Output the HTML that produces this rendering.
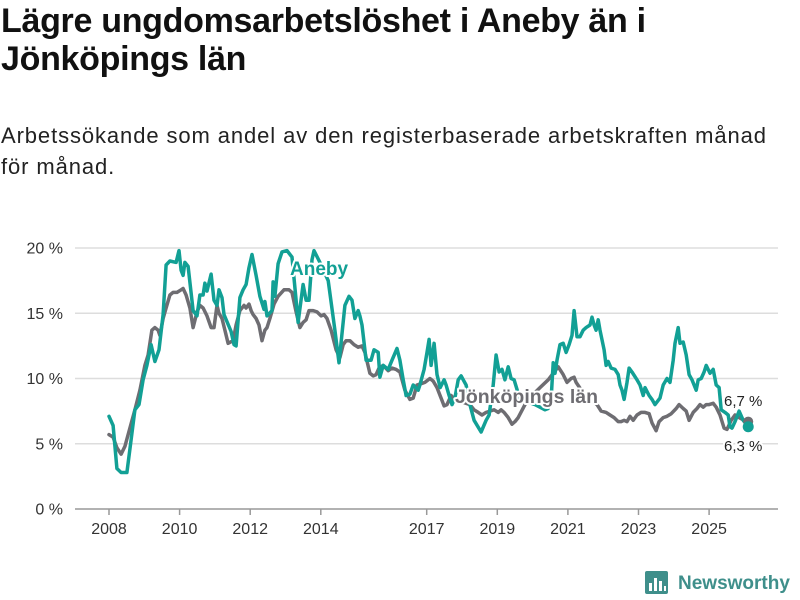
<!DOCTYPE html>
<html><head><meta charset="utf-8">
<style>
body{margin:0;background:#fff;font-family:"Liberation Sans",sans-serif;}
#wrap{position:relative;width:800px;height:600px;overflow:hidden;}
h1{position:absolute;left:1px;top:2px;margin:0;font-size:34px;line-height:38px;font-weight:bold;color:#111;width:795px;letter-spacing:-0.3px;}
p.sub{position:absolute;left:1px;top:120px;margin:0;font-size:22px;line-height:31px;color:#222;width:798px;letter-spacing:0.9px;white-space:nowrap;}
svg{position:absolute;left:0;top:0;}
</style></head><body>
<div id="wrap">
<h1>Lägre ungdomsarbetslöshet i Aneby än i<br>Jönköpings län</h1>
<p class="sub">Arbetssökande som andel av den registerbaserade arbetskraften månad<br>för månad.</p>
<svg id="chart" width="800" height="600"></svg>
</div>
<script>
// months since Jan 2008
const anebyMonths=[0,1.4,2.7,4.1,6.1,7.5,8.8,10.2,11.6,12.9,14.3,15.6,17,18.4,19.4,20.7,22.8,23.8,24.5,25.2,25.8,26.9,28.6,29.9,30.9,32,32.6,33.3,34.7,35.7,36.7,37.4,38.4,39.1,41.5,42.5,43.2,44.5,45.6,46.6,47.6,48.6,50,51.3,52.7,53,53.7,55.4,55.8,56.4,57.5,58.8,60.5,62.2,63.6,64.3,66,67,68,69,69.7,71.7,74.5,76.8,78.2,80.2,81.6,82.6,83.6,84.7,85.3,86,87.4,89.1,90.1,91.5,92.1,93.2,94.9,96.2,97.9,98.9,100,101,102.3,103.4,105.1,105.7,107.1,108.1,108.8,109.5,110.5,111.5,112.6,113.9,114.6,115.6,116.6,117.6,118.7,119.7,121.4,122.7,124.1,126.5,128.2,129.2,130.6,131.6,132.6,133.6,134.6,135.7,136.7,137.7,139.7,144.8,148.2,149.3,150.3,151,151.6,152.3,153.3,154.4,155.4,156.4,157.4,158.1,159.1,160.1,161.2,162.2,163.5,164.2,164.9,165.6,166.3,166.9,168.3,169,169.7,170.7,172,173.1,173.7,174.4,175.1,176.1,176.8,177.8,179.5,180.5,181.6,182.2,183.6,184.6,185.6,187.3,188.4,189.7,190.7,191.8,192.4,193.5,194.1,195.2,196.2,197.2,198.2,199.6,200.3,201.3,202.3,203,204.3,205.4,206.4,207.4,208.1,209.4,210.5,211.1,211.8,212.8,214.2,215.6,217.3];
const anebyValues=[7.1,6.4,3.1,2.8,2.8,5.3,7.6,8.0,9.9,11.0,12.6,11.3,12.2,14.9,18.7,19.0,18.9,19.8,18.3,17.9,18.9,18.6,15.2,14.8,16.4,16.4,17.3,16.7,18.0,16.0,15.6,16.8,16.2,14.9,13.6,12.6,12.5,16.2,16.8,17.2,18.5,19.5,17.9,16.3,15.3,15.9,14.8,15.2,17.4,16.3,18.8,19.7,19.8,19.3,16.0,14.3,17.2,16.0,16.0,19.1,19.8,18.9,17.5,13.7,11.2,15.6,16.3,16.0,14.6,15.2,14.8,14.1,11.4,11.4,12.2,12.0,10.1,11.0,10.7,11.4,12.3,11.4,9.9,8.7,8.8,9.5,9.1,9.5,10.7,12.0,13.0,11.0,12.7,10.3,9.3,9.9,9.5,8.7,8.0,8.5,9.9,10.2,9.5,8.0,6.8,5.9,6.8,7.2,9.5,11.8,10.5,10.7,9.9,10.9,10.0,9.9,8.4,8.0,7.6,7.7,8.4,11.2,10.4,11.4,12.6,12.7,12.0,12.6,13.3,15.2,13.2,13.2,13.7,13.9,14.1,14.7,14.1,13.7,14.5,13.7,12.2,11.0,11.3,10.8,10.7,10.3,9.5,9.1,8.4,9.7,10.8,10.5,9.9,9.5,8.7,9.3,8.7,8.4,8.0,8.5,9.5,10.0,9.7,11.4,12.7,13.9,12.7,12.8,11.8,10.3,9.9,9.1,9.9,10.0,10.5,11.0,10.4,10.7,9.5,9.3,7.6,7.4,7.2,6.3,6.2,6.7,7.5,6.8,6.3];
const lanMonths=[0,1.4,2.7,4.1,5.4,7.1,8.8,10.5,12.2,13.3,14.6,15.6,16.7,17.3,18.4,19.4,20.7,21.8,23.1,24.5,25.2,26.2,27.5,28.6,29.9,30.9,32,33.3,34.7,35.7,36.7,37.4,38.4,39.4,40.5,42.2,43.2,44.5,45.9,46.6,47.6,48.3,49,50,51,52,53,53.7,54.7,56.1,57.5,59.5,61.2,62.2,63.6,64.9,66,67,68,69.4,70.7,72.1,73.1,74.1,75.5,77.2,78.5,79.6,80.6,81.9,83.3,84.7,86,87,88.7,89.8,90.8,91.8,93.2,94.9,96.2,97.6,98.9,100.6,102.3,103.4,104.7,106.1,107.4,109.1,110.2,111.5,112.9,113.9,114.9,116.3,117.3,120,122.7,124.1,125.5,126.8,128.2,129.5,130.9,132.3,133.3,134.3,135.7,137,138,139.1,141.4,143.8,146.5,149.3,152.7,154.4,155.7,157.1,158.1,158.8,161.8,165.9,167.3,169,170.3,171.7,173.1,174.1,175.1,176.1,177.1,178.2,179.5,180.9,182.2,183.6,184.6,186,187,188.4,189.7,191.1,192.8,193.8,195.2,196.2,197.2,198.6,199.9,200.9,202,203,204,205.4,206.4,207.7,209.1,210.1,211.5,212.8,214.2,215.9,217.3];
const lanValues=[5.7,5.5,4.7,4.2,4.8,6.2,7.6,9.1,11.0,11.8,13.7,13.9,13.7,13.3,14.6,15.4,16.4,16.6,16.6,16.8,16.9,16.4,15.4,13.9,15.1,15.6,15.4,14.8,13.9,13.9,15.6,15.0,14.6,13.7,12.7,12.9,14.1,15.2,15.6,15.4,15.7,15.2,14.9,14.6,14.1,12.9,13.7,13.9,14.6,15.7,16.3,16.8,16.8,16.6,15.1,13.9,14.3,14.5,15.2,15.2,15.1,14.8,14.9,14.6,13.7,12.2,11.6,12.6,12.9,12.9,12.6,12.4,12.5,12.0,10.4,10.2,10.3,10.8,11.0,10.6,10.8,10.7,10.5,9.1,8.4,8.5,9.5,9.6,9.7,10.0,9.8,9.3,8.5,7.9,8.0,8.7,8.4,8.2,8.0,7.6,7.4,7.2,7.4,7.5,7.6,7.4,7.6,7.4,7.0,6.5,6.7,7.0,8.0,8.7,9.3,9.9,10.9,10.3,9.7,10.0,10.1,9.7,8.7,8.0,7.5,7.4,7.2,7.0,6.7,6.7,6.8,6.7,7.1,6.8,7.2,7.4,7.4,7.3,6.6,6.0,6.7,7.0,7.1,7.3,7.7,8.0,7.7,7.5,6.8,7.4,7.7,8.0,7.8,8.0,8.0,8.1,7.8,7.2,6.2,6.1,6.8,7.2,7.0,6.8,6.7];
const yTicks=[0,5,10,15,20];
const yTickLabels=["0 %","5 %","10 %","15 %","20 %"];
const xTickYears=[2008,2010,2012,2014,2017,2019,2021,2023,2025];

const NS="http://www.w3.org/2000/svg";
const svg=document.getElementById('chart');
const x0=109, pxPerYear=35.3;
function xScale(m){return x0+m/12*pxPerYear;}
function yScale(v){return 509-v*13.05;}
function mk(tag,attrs,parent){const e=document.createElementNS(NS,tag);for(const k in attrs)e.setAttribute(k,attrs[k]);(parent||svg).appendChild(e);return e;}

yTicks.forEach((t,i)=>{
  const g=mk('line',{x1:75,x2:778,y1:yScale(t),y2:yScale(t),stroke:t===0?'#999':'#ddd','stroke-width':1.5});
  
  
  const tx=mk('text',{x:63,y:yScale(t)+5.5,'text-anchor':'end','font-size':16,fill:'#333'});
  tx.textContent=yTickLabels[i];
  
  
});
xTickYears.forEach(yr=>{
  const xx=xScale((yr-2008)*12);
  const tk=mk('line',{x1:xx,x2:xx,y1:509,y2:515,stroke:'#999','stroke-width':1.5});
  
  
  const tx=mk('text',{x:xx,y:534,'text-anchor':'middle','font-size':16,fill:'#333'});
  tx.textContent=yr;
  
  
});
function line(ms,vs,color,name){
  const d=ms.map((m,i)=>(i?'L':'M')+xScale(m).toFixed(1)+','+yScale(vs[i]).toFixed(1)).join('');
  const p=mk('path',{d:d,fill:'none',stroke:color,'stroke-width':3.5,'stroke-linejoin':'round','stroke-linecap':'round'});
  
  
  return p;
}
line(lanMonths,lanValues,'#6e6d72','line-jonkopings-lan');
line(anebyMonths,anebyValues,'#12a095','line-aneby');
const la=lanMonths.length-1, aa=anebyMonths.length-1;
const d1=mk('circle',{cx:xScale(lanMonths[la]),cy:yScale(lanValues[la]),r:5,fill:'#6e6d72'});


const d2=mk('circle',{cx:xScale(anebyMonths[aa]),cy:yScale(anebyValues[aa]),r:5.5,fill:'#12a095'});


function label(x,y,txt,color,size,weight,name,anchor){
  const t=mk('text',{x:x,y:y,'font-size':size,'font-weight':weight,fill:color,stroke:'#fff','stroke-width':4,'paint-order':'stroke','stroke-linejoin':'round','text-anchor':anchor||'start'});
  t.textContent=txt;
  
  
}
label(290,275,'Aneby','#12a095',19,'bold','series-label-aneby');
label(455,403,'Jönköpings län','#6e6d72',19.5,'bold','series-label-jonkopings-lan');
label(724,406,lanValues[la].toFixed(1).replace('.',',')+' %','#222',15,'normal','end-value-jonkopings-lan');
label(724,451,anebyValues[aa].toFixed(1).replace('.',',')+' %','#222',15,'normal','end-value-aneby');
// logo
const lg=mk('g',{});


mk('rect',{x:645,y:571,width:23,height:23,rx:2,fill:'#3f8f8b'},lg);
[[649,583,3,8],[654,578,3,13],[659,581,3,10],[664,586,2,5]].forEach(b=>mk('rect',{x:b[0],y:b[1],width:b[2],height:b[3],fill:'#fff'},lg));
const lt=mk('text',{x:678,y:589,'font-size':19,'font-weight':'bold',fill:'#3f8f8b'},lg);
lt.textContent='Newsworthy';
</script>
</body></html>
